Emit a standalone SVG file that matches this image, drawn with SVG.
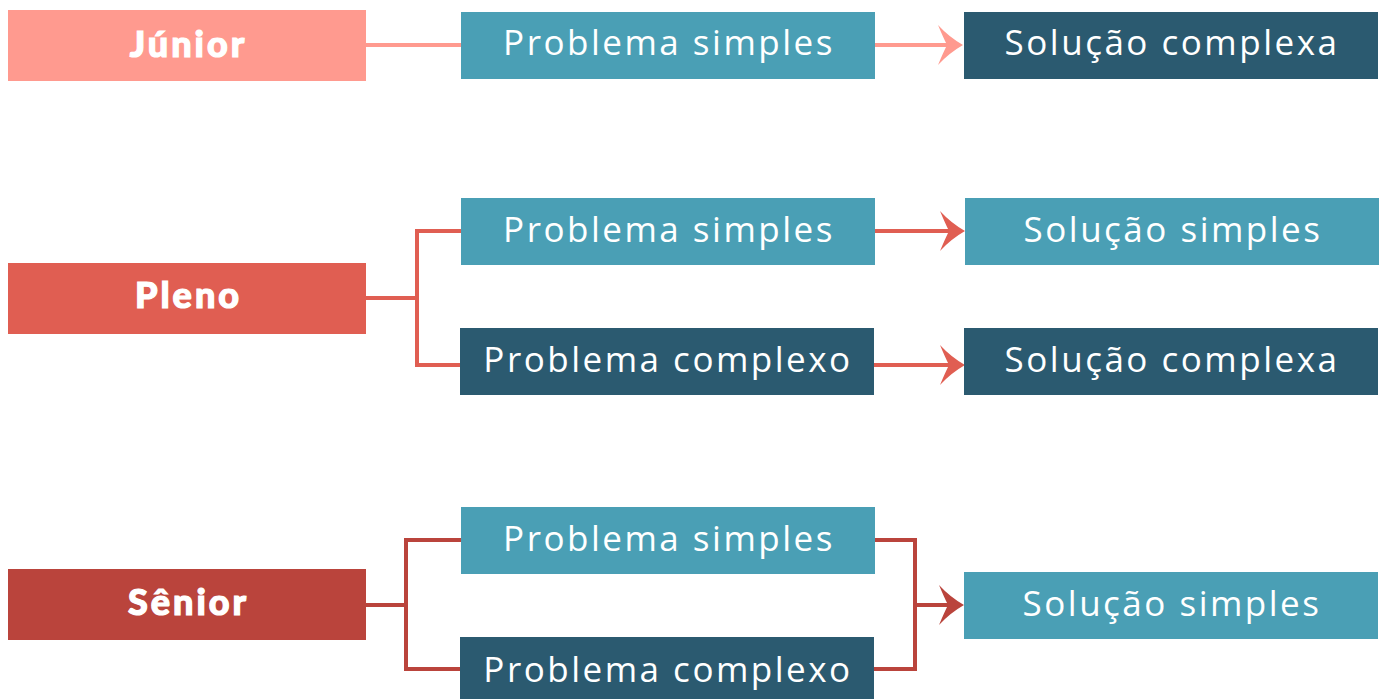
<svg xmlns="http://www.w3.org/2000/svg" width="1382" height="699" viewBox="0 0 1382 699">
<style>
.lvl{font-family:Lato,"Liberation Sans",sans-serif;font-weight:900;font-size:36px;fill:#fff;stroke:#fff;stroke-width:1.2px;text-anchor:middle;letter-spacing:3px}
.t{font-family:"Open Sans","Liberation Sans",sans-serif;font-size:35px;fill:#fff;text-anchor:middle;letter-spacing:2.5px}
.teal{fill:#4A9FB5}
.dark{fill:#2B5A70}
.c{fill:none;stroke-width:4}
</style>
<defs>
<path id="ah" d="M0,0 Q-14,8 -25,20 Q-20,8 -16,0 Q-20,-8 -25,-20 Q-14,-8 0,0 Z"/>
</defs>
<g id="connectors">
<path class="c" stroke="#FF9A8F" d="M366,45 H461 M875,45 H948"/>
<use href="#ah" x="963" y="45" fill="#FF9A8F"/>
<path class="c" stroke="#E05E52" d="M366,298 H417 M461,231 H417 V365 H460 M875,231 H950 M874,365 H950"/>
<use href="#ah" x="965" y="231" fill="#E05E52"/>
<use href="#ah" x="965" y="365" fill="#E05E52"/>
<path class="c" stroke="#BA443C" d="M366,605 H406 M461,540 H406 V669 H460 M875,540 H915 V669 H874 M915,605 H950"/>
<use href="#ah" x="964" y="605" fill="#BA443C"/>
</g>
<g id="junior"><rect x="8" y="10" width="358" height="71" fill="#FF9A8F"/><text class="lvl" x="188.5" y="57">Júnior</text></g>
<g id="pleno"><rect x="8" y="263" width="358" height="71" fill="#E05E52"/><text class="lvl" x="188.5" y="308">Pleno</text></g>
<g id="senior"><rect x="8" y="569" width="358" height="71" fill="#BA443C"/><text class="lvl" x="188.5" y="615">Sênior</text></g>
<g id="j-prob"><rect class="teal" x="461" y="12" width="414" height="67"/><text class="t" x="669" y="55">Problema simples</text></g>
<g id="j-sol"><rect class="dark" x="964" y="12" width="414" height="67"/><text class="t" x="1172" y="55">Solução complexa</text></g>
<g id="p-prob-s"><rect class="teal" x="461" y="198" width="414" height="67"/><text class="t" x="669" y="242">Problema simples</text></g>
<g id="p-prob-c"><rect class="dark" x="460" y="328" width="414" height="67"/><text class="t" x="668" y="372">Problema complexo</text></g>
<g id="p-sol-s"><rect class="teal" x="965" y="198" width="414" height="67"/><text class="t" x="1173" y="242">Solução simples</text></g>
<g id="p-sol-c"><rect class="dark" x="964" y="328" width="414" height="67"/><text class="t" x="1172" y="372">Solução complexa</text></g>
<g id="s-prob-s"><rect class="teal" x="461" y="507" width="414" height="67"/><text class="t" x="669" y="551">Problema simples</text></g>
<g id="s-prob-c"><rect class="dark" x="460" y="637" width="414" height="67"/><text class="t" x="668" y="682">Problema complexo</text></g>
<g id="s-sol-s"><rect class="teal" x="964" y="572" width="414" height="67"/><text class="t" x="1172" y="616">Solução simples</text></g>
</svg>
